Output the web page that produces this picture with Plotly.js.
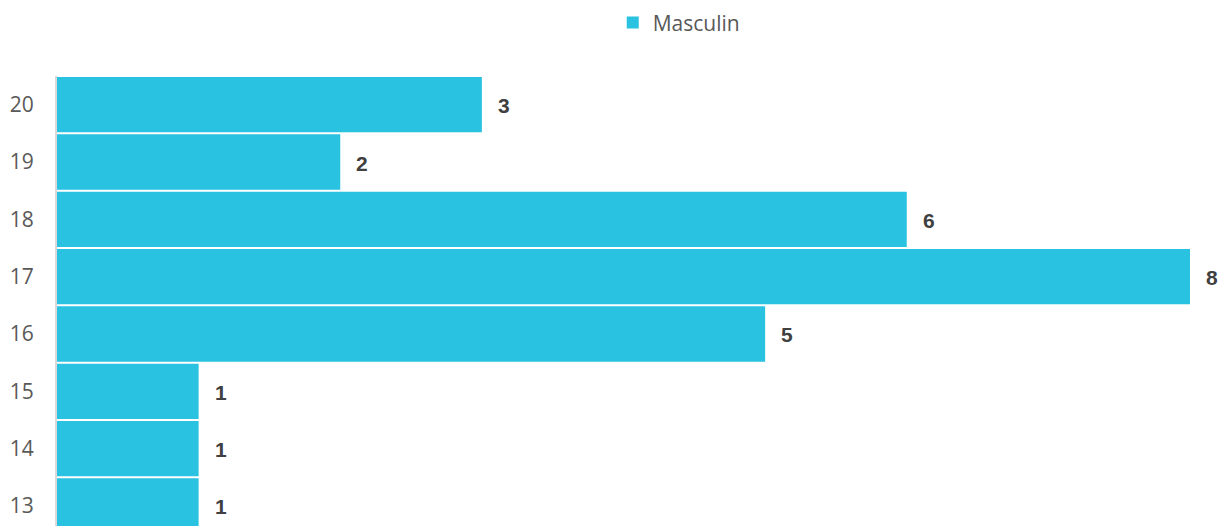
<!DOCTYPE html>
<html>
<head>
<meta charset="utf-8">
<script src="https://cdn.plot.ly/plotly-3.0.1.min.js"></script>
<style>html,body{margin:0;padding:0;background:#fff;}#chart{width:1222px;height:526px;}</style>
</head>
<body>
<div id="chart"></div>
<script>
const categories = ["13", "14", "15", "16", "17", "18", "19", "20"];
const values = [1, 1, 1, 5, 8, 6, 2, 3];
const seriesName = "Masculin";

const barColor = "#29C2E0";

const trace = {
  type: "bar",
  orientation: "h",
  name: seriesName,
  y: categories,
  x: values,
  marker: {color: barColor},
  hoverinfo: "none",
  showlegend: true
};

// category axis: annotation y given as category index
const annotations = categories.map((c, i) => ({
  x: values[i], y: i, xref: "x", yref: "y",
  text: "<b>" + values[i] + "</b>",
  showarrow: false, xanchor: "left", xshift: 14, yshift: -1,
  font: {family: "Liberation Sans, Arial, sans-serif", size: 21, color: "#404040"}
}));

const layout = {
  width: 1222, height: 526,
  margin: {l: 57, r: 32, t: 76, b: 0},
  paper_bgcolor: "#ffffff", plot_bgcolor: "#ffffff",
  bargap: 0.035,
  showlegend: true,
  legend: {
    orientation: "h", x: 0.4905, xanchor: "left", y: 1.118, yanchor: "middle",
    font: {family: "Open Sans, sans-serif", size: 21, color: "#595959"},
    itemwidth: 30
  },
  xaxis: {
    range: [0, 8], showgrid: false, zeroline: false, showticklabels: false,
    showline: false, fixedrange: true
  },
  yaxis: {
    type: "category", categoryorder: "array", categoryarray: categories,
    range: [-0.349, 7.5], showgrid: false, zeroline: false,
    showline: true, linecolor: "#D9D9D9", linewidth: 2,
    ticks: "", ticklabelstandoff: 17,
    tickfont: {family: "Open Sans, sans-serif", size: 21, color: "#595959"}
  },
  annotations: annotations
};

Plotly.newPlot("chart", [trace], layout, {staticPlot: true, displayModeBar: false});
</script>
</body>
</html>
